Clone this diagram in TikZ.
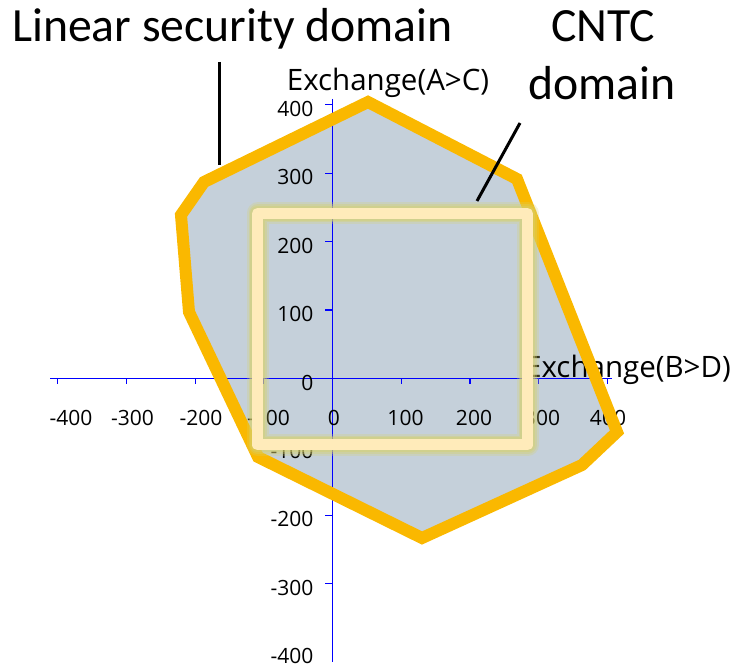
\documentclass[tikz,border=0pt]{standalone}
\usepackage{fontspec}
\setmainfont{Carlito}
\newfontfamily\axfont{Open Sans}
\definecolor{fillc}{RGB}{197,208,218}
\definecolor{orangec}{RGB}{250,184,0}
\definecolor{creamc}{RGB}{255,235,186}
\definecolor{glowc}{RGB}{214,208,110}
\definecolor{axisc}{RGB}{0,0,255}
\tikzset{
  axisline/.style={draw=axisc, line width=1.2pt},
  ticklab/.style={font=\axfont\fontsize{21}{25}\selectfont, inner sep=0pt},
  axlab/.style={font=\axfont\fontsize{29.5}{34}\selectfont, inner sep=0pt},
  title/.style={font=\fontsize{47.7}{56}\selectfont, inner sep=0pt},
  leader/.style={draw=black, line width=3pt},
  domline/.style={draw=orangec, line width=12pt, line join=miter},
}
\begin{document}
\begin{tikzpicture}[x=1pt,y=-1pt]
\useasboundingbox (0,0) rectangle (737,668);
% polygon fill
\coordinate (p1) at (368,102);
\coordinate (p2) at (517,179);
\coordinate (p3) at (617,432);
\coordinate (p4) at (582,465);
\coordinate (p5) at (422,538);
\coordinate (p6) at (258,457);
\coordinate (p7) at (189,312);
\coordinate (p8) at (181,215);
\coordinate (p9) at (204,182);
\fill[fillc] (p1) -- (p2) -- (p3) -- (p4) -- (p5) -- (p6) -- (p7) -- (p8) -- (p9) -- cycle;
% axes
\coordinate (xa) at (50,378.5);
\coordinate (xb) at (612,378.5);
\coordinate (ya) at (332.5,99);
\coordinate (yb) at (332.5,662);
\draw[axisline] (xa) -- (xb);
\draw[axisline] (ya) -- (yb);
\foreach \v in {-400,-300,-200,-100,0,100,200,300,400}{
  \draw[axisline] ({332.5+0.687*\v},378.5) -- ++(0,6);
}
\foreach \v in {400,300,200,100,0,-100,-200,-300}{
  \draw[axisline] (332.5,{378.5-0.684*\v}) -- ++(-8,0);
}
% x tick labels
\foreach \v/\c in {-400/71,-300/132.5,-200/201,-100/268.5,0/334,100/405.5,200/474,300/542,400/608}{
  \node[ticklab] (xl\v) at (\c,418) {\v};
}
% y tick labels
\foreach \v in {400,300,200,100,0,-100,-200,-300,-400}{
  \node[ticklab, anchor=east] (yl\v) at (313.5,{378.5-0.684*\v+4}) {\v};
}
% axis titles
\node[axlab, anchor=base] (axA) at (388,90.7) {Exchange(A>C)};
\node[axlab, anchor=base east] (axB) at (731,378) {Exchange(B>D)};
% polygon border
\draw[domline] (p1) -- (p2) -- (p3) -- (p4) -- (p5) -- (p6) -- (p7) -- (p8) -- (p9) -- cycle;
% CNTC rectangle with glow
\coordinate (r1) at (257.5,213.5);
\coordinate (r2) at (527.5,445);
\draw[glowc, opacity=0.25, line width=22pt, line join=round] (r1) rectangle (r2);
\draw[glowc, opacity=0.35, line width=18pt, line join=round] (r1) rectangle (r2);
\draw[glowc, opacity=0.4, line width=15pt, line join=round] (r1) rectangle (r2);
\draw[creamc, line width=11pt, line join=round] (r1) rectangle (r2);
% titles
\node[title, anchor=base] (lsd) at (232.5,42) {Linear security domain};
\node[title, anchor=base] (cntc1) at (603,42) {CNTC};
\node[title, anchor=base] (cntc2) at (602,100) {domain};
% leader lines
\coordinate (l1a) at (219,62);
\coordinate (l1b) at (219,165);
\coordinate (l2a) at (520,123);
\coordinate (l2b) at (477,201);
\draw[leader] (l1a) -- (l1b);
\draw[leader] (l2a) -- (l2b);
\end{tikzpicture}
\end{document}
